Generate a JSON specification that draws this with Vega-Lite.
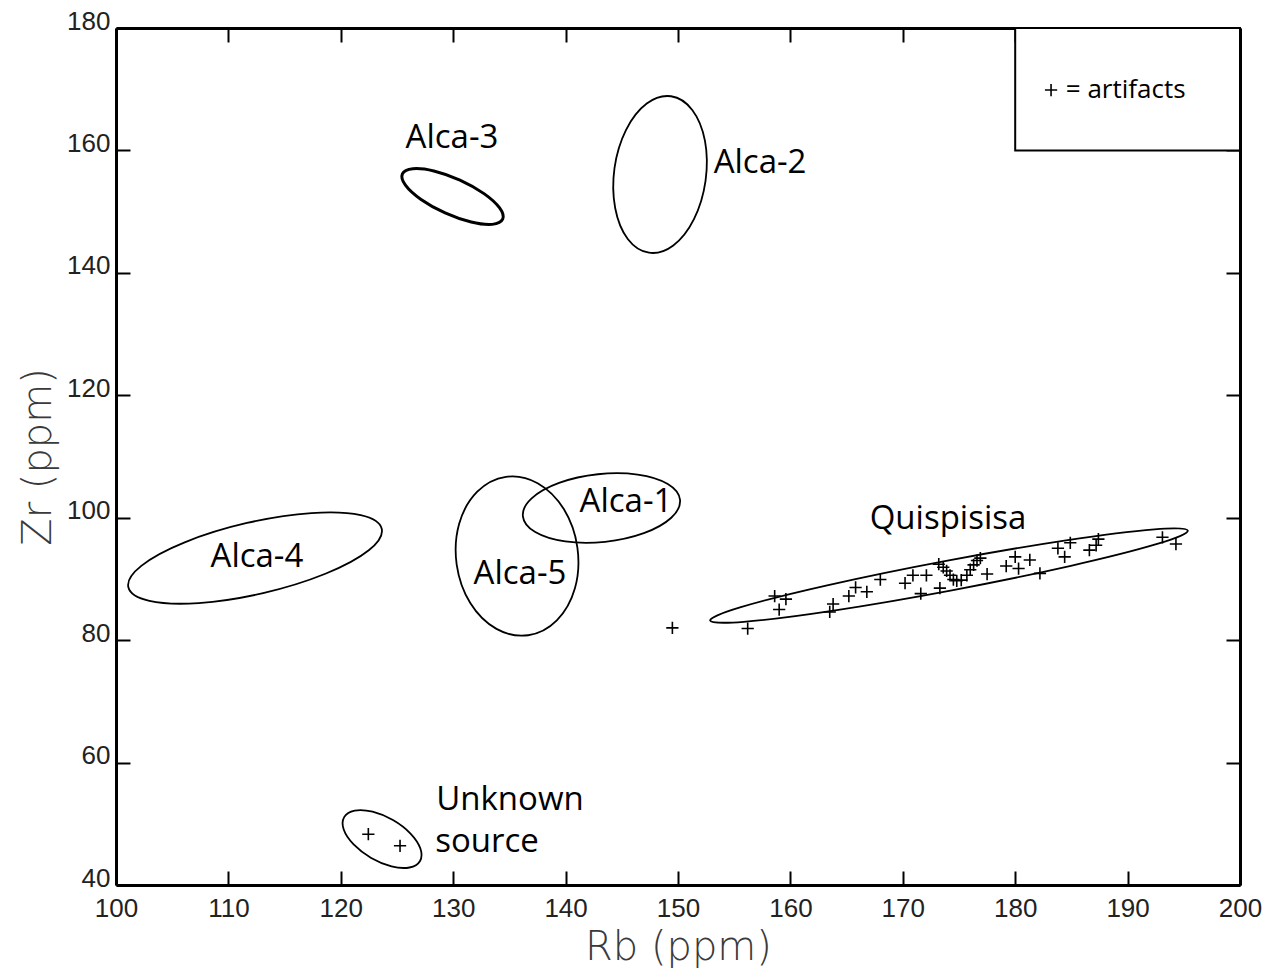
{
  "$schema": "https://vega.github.io/schema/vega-lite/v6.json",
  "width": 1124,
  "height": 857,
  "autosize": "none",
  "padding": {"left": 116, "top": 28, "right": 34, "bottom": 91},
  "background": "white",
  "config": {"view": {"stroke": null}},
  "datasets": {
    "ellipses": [
      {"group": "Alca-3", "i": 0, "Rb": 134.40, "Zr": 148.76},
      {"group": "Alca-3", "i": 1, "Rb": 133.47, "Zr": 147.92},
      {"group": "Alca-3", "i": 2, "Rb": 131.60, "Zr": 148.30},
      {"group": "Alca-3", "i": 3, "Rb": 129.28, "Zr": 149.79},
      {"group": "Alca-3", "i": 4, "Rb": 127.14, "Zr": 152.00},
      {"group": "Alca-3", "i": 5, "Rb": 125.75, "Zr": 154.34},
      {"group": "Alca-3", "i": 6, "Rb": 125.48, "Zr": 156.18},
      {"group": "Alca-3", "i": 7, "Rb": 126.41, "Zr": 157.02},
      {"group": "Alca-3", "i": 8, "Rb": 128.28, "Zr": 156.65},
      {"group": "Alca-3", "i": 9, "Rb": 130.60, "Zr": 155.15},
      {"group": "Alca-3", "i": 10, "Rb": 132.74, "Zr": 152.94},
      {"group": "Alca-3", "i": 11, "Rb": 134.13, "Zr": 150.60},
      {"group": "Alca-2", "i": 0, "Rb": 147.42, "Zr": 143.29},
      {"group": "Alca-2", "i": 1, "Rb": 145.53, "Zr": 145.53},
      {"group": "Alca-2", "i": 2, "Rb": 144.41, "Zr": 150.59},
      {"group": "Alca-2", "i": 3, "Rb": 144.35, "Zr": 157.11},
      {"group": "Alca-2", "i": 4, "Rb": 145.38, "Zr": 163.36},
      {"group": "Alca-2", "i": 5, "Rb": 147.22, "Zr": 167.66},
      {"group": "Alca-2", "i": 6, "Rb": 149.38, "Zr": 168.85},
      {"group": "Alca-2", "i": 7, "Rb": 151.27, "Zr": 166.61},
      {"group": "Alca-2", "i": 8, "Rb": 152.40, "Zr": 161.55},
      {"group": "Alca-2", "i": 9, "Rb": 152.45, "Zr": 155.03},
      {"group": "Alca-2", "i": 10, "Rb": 151.42, "Zr": 148.78},
      {"group": "Alca-2", "i": 11, "Rb": 149.58, "Zr": 144.48},
      {"group": "Alca-1", "i": 0, "Rb": 150.18, "Zr": 102.93},
      {"group": "Alca-1", "i": 1, "Rb": 149.40, "Zr": 99.99},
      {"group": "Alca-1", "i": 2, "Rb": 146.96, "Zr": 97.47},
      {"group": "Alca-1", "i": 3, "Rb": 143.51, "Zr": 96.06},
      {"group": "Alca-1", "i": 4, "Rb": 139.97, "Zr": 96.12},
      {"group": "Alca-1", "i": 5, "Rb": 137.30, "Zr": 97.65},
      {"group": "Alca-1", "i": 6, "Rb": 136.20, "Zr": 100.23},
      {"group": "Alca-1", "i": 7, "Rb": 136.98, "Zr": 103.17},
      {"group": "Alca-1", "i": 8, "Rb": 139.42, "Zr": 105.69},
      {"group": "Alca-1", "i": 9, "Rb": 142.87, "Zr": 107.10},
      {"group": "Alca-1", "i": 10, "Rb": 146.41, "Zr": 107.04},
      {"group": "Alca-1", "i": 11, "Rb": 149.09, "Zr": 105.51},
      {"group": "Alca-5", "i": 0, "Rb": 136.67, "Zr": 80.80},
      {"group": "Alca-5", "i": 1, "Rb": 133.85, "Zr": 81.84},
      {"group": "Alca-5", "i": 2, "Rb": 131.52, "Zr": 86.07},
      {"group": "Alca-5", "i": 3, "Rb": 130.31, "Zr": 92.35},
      {"group": "Alca-5", "i": 4, "Rb": 130.53, "Zr": 99.01},
      {"group": "Alca-5", "i": 5, "Rb": 132.14, "Zr": 104.25},
      {"group": "Alca-5", "i": 6, "Rb": 134.69, "Zr": 106.68},
      {"group": "Alca-5", "i": 7, "Rb": 137.51, "Zr": 105.64},
      {"group": "Alca-5", "i": 8, "Rb": 139.84, "Zr": 101.41},
      {"group": "Alca-5", "i": 9, "Rb": 141.05, "Zr": 95.13},
      {"group": "Alca-5", "i": 10, "Rb": 140.83, "Zr": 88.47},
      {"group": "Alca-5", "i": 11, "Rb": 139.22, "Zr": 83.23},
      {"group": "Alca-4", "i": 0, "Rb": 123.64, "Zr": 98.19},
      {"group": "Alca-4", "i": 1, "Rb": 122.49, "Zr": 94.68},
      {"group": "Alca-4", "i": 2, "Rb": 118.63, "Zr": 90.84},
      {"group": "Alca-4", "i": 3, "Rb": 113.09, "Zr": 87.68},
      {"group": "Alca-4", "i": 4, "Rb": 107.36, "Zr": 86.06},
      {"group": "Alca-4", "i": 5, "Rb": 102.97, "Zr": 86.41},
      {"group": "Alca-4", "i": 6, "Rb": 101.10, "Zr": 88.63},
      {"group": "Alca-4", "i": 7, "Rb": 102.25, "Zr": 92.14},
      {"group": "Alca-4", "i": 8, "Rb": 106.11, "Zr": 95.98},
      {"group": "Alca-4", "i": 9, "Rb": 111.65, "Zr": 99.14},
      {"group": "Alca-4", "i": 10, "Rb": 117.38, "Zr": 100.76},
      {"group": "Alca-4", "i": 11, "Rb": 121.77, "Zr": 100.42},
      {"group": "Quispisisa", "i": 0, "Rb": 195.36, "Zr": 97.89},
      {"group": "Quispisisa", "i": 1, "Rb": 192.63, "Zr": 95.71},
      {"group": "Quispisisa", "i": 2, "Rb": 184.95, "Zr": 92.14},
      {"group": "Quispisisa", "i": 3, "Rb": 174.36, "Zr": 88.14},
      {"group": "Quispisisa", "i": 4, "Rb": 163.70, "Zr": 84.79},
      {"group": "Quispisisa", "i": 5, "Rb": 155.84, "Zr": 82.99},
      {"group": "Quispisisa", "i": 6, "Rb": 152.86, "Zr": 83.21},
      {"group": "Quispisisa", "i": 7, "Rb": 155.59, "Zr": 85.39},
      {"group": "Quispisisa", "i": 8, "Rb": 163.27, "Zr": 88.96},
      {"group": "Quispisisa", "i": 9, "Rb": 173.86, "Zr": 92.96},
      {"group": "Quispisisa", "i": 10, "Rb": 184.52, "Zr": 96.31},
      {"group": "Quispisisa", "i": 11, "Rb": 192.39, "Zr": 98.11},
      {"group": "Unknown", "i": 0, "Rb": 127.05, "Zr": 43.93},
      {"group": "Unknown", "i": 1, "Rb": 126.11, "Zr": 42.86},
      {"group": "Unknown", "i": 2, "Rb": 124.51, "Zr": 43.04},
      {"group": "Unknown", "i": 3, "Rb": 122.70, "Zr": 44.41},
      {"group": "Unknown", "i": 4, "Rb": 121.14, "Zr": 46.62},
      {"group": "Unknown", "i": 5, "Rb": 120.26, "Zr": 49.06},
      {"group": "Unknown", "i": 6, "Rb": 120.30, "Zr": 51.09},
      {"group": "Unknown", "i": 7, "Rb": 121.23, "Zr": 52.16},
      {"group": "Unknown", "i": 8, "Rb": 122.83, "Zr": 51.98},
      {"group": "Unknown", "i": 9, "Rb": 124.64, "Zr": 50.61},
      {"group": "Unknown", "i": 10, "Rb": 126.20, "Zr": 48.41},
      {"group": "Unknown", "i": 11, "Rb": 127.08, "Zr": 45.96}
    ],
    "artifacts": [
      {"Rb": 149.5, "Zr": 82.0}, {"Rb": 156.2, "Zr": 81.9}, {"Rb": 158.6, "Zr": 87.2},
      {"Rb": 159.6, "Zr": 86.7}, {"Rb": 159.0, "Zr": 85.0}, {"Rb": 163.8, "Zr": 85.9},
      {"Rb": 163.5, "Zr": 84.6}, {"Rb": 165.2, "Zr": 87.2}, {"Rb": 165.8, "Zr": 88.6},
      {"Rb": 166.8, "Zr": 87.9}, {"Rb": 168.0, "Zr": 89.9}, {"Rb": 170.2, "Zr": 89.3},
      {"Rb": 170.9, "Zr": 90.6}, {"Rb": 172.1, "Zr": 90.6}, {"Rb": 171.6, "Zr": 87.6},
      {"Rb": 173.3, "Zr": 88.5}, {"Rb": 173.2, "Zr": 92.4}, {"Rb": 173.6, "Zr": 91.9},
      {"Rb": 173.9, "Zr": 91.3}, {"Rb": 174.2, "Zr": 90.6}, {"Rb": 174.5, "Zr": 89.9},
      {"Rb": 174.8, "Zr": 89.7}, {"Rb": 175.2, "Zr": 89.8}, {"Rb": 175.7, "Zr": 90.6},
      {"Rb": 176.0, "Zr": 91.5}, {"Rb": 176.3, "Zr": 92.3}, {"Rb": 176.6, "Zr": 93.0},
      {"Rb": 176.9, "Zr": 93.4}, {"Rb": 177.5, "Zr": 90.8}, {"Rb": 179.2, "Zr": 92.1},
      {"Rb": 180.0, "Zr": 93.6}, {"Rb": 180.3, "Zr": 91.7}, {"Rb": 181.3, "Zr": 93.1},
      {"Rb": 182.2, "Zr": 90.9}, {"Rb": 183.8, "Zr": 95.0}, {"Rb": 184.4, "Zr": 93.6},
      {"Rb": 184.9, "Zr": 95.9}, {"Rb": 186.6, "Zr": 94.7}, {"Rb": 187.2, "Zr": 95.5},
      {"Rb": 187.4, "Zr": 96.5}, {"Rb": 193.1, "Zr": 96.8}, {"Rb": 194.3, "Zr": 95.7},
      {"Rb": 122.45, "Zr": 48.3}, {"Rb": 125.27, "Zr": 46.4}
    ],
    "labels": [
      {"label": "Alca-3", "Rb": 129.89, "Zr": 162.03},
      {"label": "Alca-2", "Rb": 157.30, "Zr": 157.94},
      {"label": "Alca-1", "Rb": 145.37, "Zr": 102.56},
      {"label": "Alca-5", "Rb": 135.94, "Zr": 90.80},
      {"label": "Alca-4", "Rb": 112.54, "Zr": 93.58},
      {"label": "Quispisisa", "Rb": 174.02, "Zr": 99.78},
      {"label": "Unknown", "Rb": 135.05, "Zr": 53.88},
      {"label": "source", "Rb": 133.01, "Zr": 47.02}
    ],
    "legendbox": [{"Rb": 180, "Rb2": 200, "Zr": 160, "Zr2": 180}],
    "legendkey": [{"Rb": 183.19, "Zr": 169.87, "label": "= artifacts", "Rbt": 184.5}]
  },
  "resolve": {"axis": {"x": "independent", "y": "independent"}},
  "layer": [
    {
      "data": {"name": "ellipses"},
      "transform": [{"filter": "datum.group !== 'Alca-3'"}],
      "mark": {"type": "line", "interpolate": "cardinal-closed", "stroke": "black", "strokeWidth": 1.8},
      "encoding": {
        "x": {"field": "Rb", "type": "quantitative",
          "scale": {"domain": [100, 200], "nice": false, "zero": false},
          "axis": {"orient": "bottom", "values": [100, 110, 120, 130, 140, 150, 160, 170, 180, 190, 200],
            "grid": false, "domainColor": "black", "domainWidth": 3, "tickColor": "black", "tickWidth": 2,
            "tickSize": -14, "labelPadding": 24, "labelFont": "Liberation Sans", "labelFontSize": 26,
            "labelColor": "#222", "labelFlush": false, "title": "Rb (ppm)", "titleFont": "DejaVu Sans",
            "titleFontSize": 40, "titleFontWeight": 200, "titleColor": "#3a3a3a", "titlePadding": 6}},
        "y": {"field": "Zr", "type": "quantitative",
          "scale": {"domain": [40, 180], "nice": false, "zero": false},
          "axis": {"orient": "left", "values": [40, 60, 80, 100, 120, 140, 160, 180],
            "grid": false, "domainColor": "black", "domainWidth": 3, "tickColor": "black", "tickWidth": 2,
            "tickSize": -14, "labelPadding": 20, "labelOffset": -7, "labelFont": "Liberation Sans", "labelFontSize": 26,
            "labelColor": "#222", "labelFlush": false, "title": "Zr (ppm)", "titleFont": "DejaVu Sans",
            "titleFontSize": 40, "titleFontWeight": 200, "titleColor": "#3a3a3a", "titlePadding": 8}},
        "detail": {"field": "group"},
        "order": {"field": "i", "type": "quantitative"}
      }
    },
    {
      "data": {"name": "ellipses"},
      "transform": [{"filter": "datum.group === 'Alca-3'"}],
      "mark": {"type": "line", "interpolate": "cardinal-closed", "stroke": "black", "strokeWidth": 3},
      "encoding": {
        "x": {"field": "Rb", "type": "quantitative", "axis": null},
        "y": {"field": "Zr", "type": "quantitative", "axis": null},
        "detail": {"field": "group"},
        "order": {"field": "i", "type": "quantitative"}
      }
    },
    {
      "data": {"name": "artifacts"},
      "mark": {"type": "point", "shape": "M-1,0L1,0M0,-1L0,1", "size": 150, "filled": false, "stroke": "black", "strokeWidth": 1.6, "opacity": 1},
      "encoding": {
        "x": {"field": "Rb", "type": "quantitative",
          "axis": {"orient": "top", "values": [100, 110, 120, 130, 140, 150, 160, 170, 180, 190, 200],
            "grid": false, "labels": false, "title": null, "domainColor": "black", "domainWidth": 3,
            "tickColor": "black", "tickWidth": 2, "tickSize": -14}},
        "y": {"field": "Zr", "type": "quantitative",
          "axis": {"orient": "right", "values": [40, 60, 80, 100, 120, 140, 160, 180],
            "grid": false, "labels": false, "title": null, "domainColor": "black", "domainWidth": 3,
            "tickColor": "black", "tickWidth": 2, "tickSize": -14}}
      }
    },
    {
      "data": {"name": "labels"},
      "mark": {"type": "text", "font": "Open Sans", "fontSize": 33, "color": "black", "align": "center", "baseline": "middle"},
      "encoding": {
        "x": {"field": "Rb", "type": "quantitative", "axis": null},
        "y": {"field": "Zr", "type": "quantitative", "axis": null},
        "text": {"field": "label"}
      }
    },
    {
      "data": {"name": "legendbox"},
      "mark": {"type": "rect", "fill": "white", "stroke": "black", "strokeWidth": 2},
      "encoding": {
        "x": {"field": "Rb", "type": "quantitative", "axis": null},
        "x2": {"field": "Rb2"},
        "y": {"field": "Zr", "type": "quantitative", "axis": null},
        "y2": {"field": "Zr2"}
      }
    },
    {
      "data": {"name": "legendkey"},
      "mark": {"type": "point", "shape": "M-1,0L1,0M0,-1L0,1", "size": 150, "filled": false, "stroke": "black", "strokeWidth": 1.6, "opacity": 1},
      "encoding": {
        "x": {"field": "Rb", "type": "quantitative", "axis": null},
        "y": {"field": "Zr", "type": "quantitative", "axis": null}
      }
    },
    {
      "data": {"name": "legendkey"},
      "mark": {"type": "text", "font": "Open Sans", "fontSize": 26, "color": "black", "align": "left", "baseline": "middle"},
      "encoding": {
        "x": {"field": "Rbt", "type": "quantitative", "axis": null},
        "y": {"field": "Zr", "type": "quantitative", "axis": null},
        "text": {"field": "label"}
      }
    }
  ]
}
